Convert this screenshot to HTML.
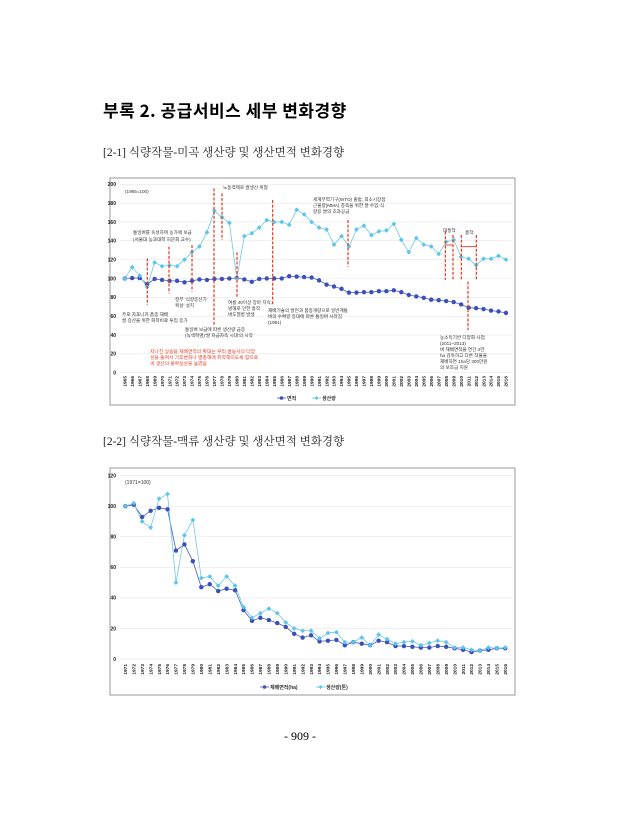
<!DOCTYPE html>
<html><head><meta charset="utf-8"><style>
html,body{margin:0;padding:0;background:#fff;}
body{width:618px;height:840px;position:relative;overflow:hidden;font-family:"Liberation Sans","Noto Sans CJK KR",sans-serif;}
.t{position:absolute;white-space:nowrap;}
svg{position:absolute;left:0;top:0;}
svg text{font-family:"Liberation Sans","Noto Sans CJK KR",sans-serif;}
</style></head><body>
<div class="t" style="left:103px;top:97px;font-size:17px;font-weight:bold;font-family:'Noto Sans CJK KR',sans-serif;letter-spacing:0.5px;">부록 2. 공급서비스 세부 변화경향</div>
<div class="t" style="left:103px;top:144px;font-size:11.5px;font-family:'Liberation Serif','Noto Serif CJK SC',serif;color:#222;">[2-1] 식량작물-미곡 생산량 및 생산면적 변화경향</div>
<div class="t" style="left:103px;top:433px;font-size:11.5px;font-family:'Liberation Serif','Noto Serif CJK SC',serif;color:#222;">[2-2] 식량작물-맥류 생산량 및 생산면적 변화경향</div>
<div class="t" style="left:284px;top:729px;font-size:12px;font-family:'Liberation Serif',serif;">- 909 -</div>
<svg id="s" width="618" height="840" xmlns="http://www.w3.org/2000/svg">
<rect x="110" y="178" width="405" height="227" fill="#fff" stroke="#999" stroke-width="1"/>
<rect x="110" y="468" width="405" height="227" fill="#fff" stroke="#999" stroke-width="1"/>
<g id="c1"></g><g id="c2"></g>
<g font-size="4.6" fill="#333">
<text x="125" y="193">(1965=100)</text>
<text x="223" y="189">노동력제로 쌀생산 위협</text>
<text x="313" y="201">세계무역기구(WTO) 출범; 최소시장접</text>
<text x="313" y="207">근물량(MMA) 충족을 위한 쌀 수입·식</text>
<text x="313" y="213">량용 쌀의 초과공급</text>
<text x="133" y="234">통일벼를 육성하여 농가에 보급</text>
<text x="133" y="241">(서울대 농과대학 허문회 교수)</text>
<text x="443" y="232">대풍작</text>
<text x="465" y="234">흉작</text>
<text x="175" y="301">정부 '식량증산기</text>
<text x="175" y="307">획실' 설치</text>
<text x="228" y="304">여름 40이상 장마 지속,</text>
<text x="228" y="310">냉해로 인한 흉작</text>
<text x="228" y="316">벼도열병 발생</text>
<text x="268" y="312">재배기술의 발전과 품종개량으로 일반계통</text>
<text x="268" y="318">벼의 수확량 증대에 따른 통일벼 사라짐</text>
<text x="268" y="324">(1991)</text>
<text x="122" y="316">주로 자포니카 품종 재배</text>
<text x="122" y="322">쌀 증산을 위한 화학비료 투입 증가</text>
<text x="185" y="331">통일벼 보급에 따른 생산량 급증</text>
<text x="185" y="337">(녹색혁명)'쌀 자급자족 시대'의 시작</text>
<text x="440" y="339">농소득기반 다양화 사업</text>
<text x="440" y="345">(2011~2013)</text>
<text x="440" y="351">벼 재배면적을 연간 4만</text>
<text x="440" y="357">ha 감축하고 다른 작물을</text>
<text x="440" y="363">재배하면 1ha당 300만원</text>
<text x="440" y="369">의 보조금 지원</text>
</g>
<g font-size="4.8" fill="#e8412c">
<text x="150" y="353">지나친 상승용 재배면적의 확대는 우리 쌀농사의 다양</text>
<text x="150" y="359">성을 줄여서 기후변화나 병충해에 취약해지도록 함으로</text>
<text x="150" y="365">써 생산의 불확실성을 높였음</text>
</g>
<g font-size="5" fill="#333">
<text x="125" y="484">(1971=100)</text>
</g>
</svg>
<script>
var s=document.getElementById('s');var NS='http://www.w3.org/2000/svg';
function el(g,t,a,txt){var e=document.createElementNS(NS,t);for(var k in a)e.setAttribute(k,a[k]);if(txt!=null)e.textContent=txt;g.appendChild(e);return e;}
function chart(gid,x0,x1,y0,yTop,ymax,step,y1,n,A,P,l1,l2,lx1,lx2,ly,labY){
 var g=document.getElementById(gid);
 function X(i){return x0+(x1-x0)*i/(n-1);} function Y(v){return y0-(y0-yTop)*v/ymax;}
 for(var v=0;v<=ymax;v+=step){el(g,'line',{x1:120,x2:512,y1:Y(v),y2:Y(v),stroke:'#e6e6e6','stroke-width':0.6});
  el(g,'text',{x:116,y:Y(v)+1.8,'font-size':5,'font-weight':'bold','text-anchor':'end',fill:'#222'},v);}
 for(var i=0;i<n;i++){var x=X(i);el(g,'text',{x:0,y:0,'font-size':4.8,'font-weight':'bold',fill:'#222',transform:'translate('+(x+1.7)+','+labY+') rotate(-90)','text-anchor':'end'},y1+i);}
 function line(D,c,w){var p='';for(var i=0;i<D.length;i++)p+=(i?'L':'M')+X(i).toFixed(1)+' '+Y(D[i]).toFixed(1);el(g,'path',{d:p,fill:'none',stroke:c,'stroke-width':w});}
 line(A,'#4a5fc1',0.8);line(P,'#5bc0e8',0.7);
 for(var i=0;i<n;i++){el(g,'circle',{cx:X(i),cy:Y(A[i]),r:2.2,fill:'#3b4fb8'});}
 for(var i=0;i<n;i++){var x=X(i),y=Y(P[i]);el(g,'path',{d:'M'+x+' '+(y-2.4)+'L'+(x+2.4)+' '+y+'L'+x+' '+(y+2.4)+'L'+(x-2.4)+' '+y+'Z',fill:'#5bc6ec'});}
 el(g,'line',{x1:lx1-10,x2:lx1-1,y1:ly,y2:ly,stroke:'#4a5fc1','stroke-width':0.8});el(g,'circle',{cx:lx1-5.5,cy:ly,r:1.8,fill:'#3b4fb8'});
 el(g,'text',{x:lx1,y:ly+1.8,'font-size':5,'font-weight':'bold',fill:'#333'},l1);
 el(g,'line',{x1:lx2-10,x2:lx2-1,y1:ly,y2:ly,stroke:'#5bc0e8','stroke-width':0.8});el(g,'path',{d:'M'+(lx2-5.5)+' '+(ly-2)+'l2 2l-2 2l-2 -2z',fill:'#5bc6ec'});
 el(g,'text',{x:lx2,y:ly+1.8,'font-size':5,'font-weight':'bold',fill:'#333'},l2);
}
chart('c1',124.7,506,372.7,184.3,200,20,1965,52,
[100,100.5,100.5,94,99.5,98.5,97.5,97.5,96,97.5,99,98.5,99.5,99.5,100,100.5,99,96.5,99.5,100,100,100,102.5,102,101.5,101,98,93.5,91.5,89,85,85,85.5,85.5,86.5,86.5,87.5,85.5,82.5,81,79.5,77.5,77,76,75,72.5,69,68.5,67.5,66,65,63.5],
[100,112,103,91,117,113,114,113,120,128,134,149,172,165,159,100,145,148,154,162,160,160,157,173,168,160,154,152,136,145,134,152,156,146,150,151,158,141,128,143,136,134,126,139,141,123,121,114,121,121,124,120],
'면적','생산량',287,322,398,376);
chart('c2',125.3,505.3,659,475.7,120,20,1971,46,
[100,101,93,97,99,98,71,75,64,47,49,44.5,46,45,32,25,27,25.5,23.5,21,16.5,14,15.5,11.5,12,12.5,9,11,10,9,12,11,8.5,8.5,8,7.5,7.5,8.5,8,7,6,4.5,5.5,6,7,7],
[100,102,90,86,105,108,50,81,91,53,54,48,54,48,34,27,30,33,30,24,20,18.5,18.5,13.5,17,17.5,11,11,14,9,16,13,10,11,11.5,9,10.5,12,11,7.5,7.5,6,5.5,7.5,7,7.5],
'재배면적(ha)','생산량(톤)',270,326,687,664);
var g=document.getElementById('c1');
[[118,250,390],[183,215,355],[252,210,350],[318,40,450],[342,55,195],[387,232,370],[494,75,390],[720,135,275],[1012,170,315],[1035,180,318],[1060,180,318],[1105,180,318],[1080,320,465]].forEach(function(d){
 var x=108+d[0]/3;el(g,'line',{x1:x,x2:x,y1:175+d[1]/3,y2:175+d[2]/3,stroke:'#e03a1e','stroke-width':1.2,'stroke-dasharray':'3,1.6'});});
el(g,'line',{x1:108+1012/3,x2:108+1035/3,y1:175+210/3,y2:175+210/3,stroke:'#e03a1e','stroke-width':0.9});
el(g,'line',{x1:108+1060/3,x2:108+1105/3,y1:175+215/3,y2:175+215/3,stroke:'#e03a1e','stroke-width':0.9});
</script>
</body></html>
